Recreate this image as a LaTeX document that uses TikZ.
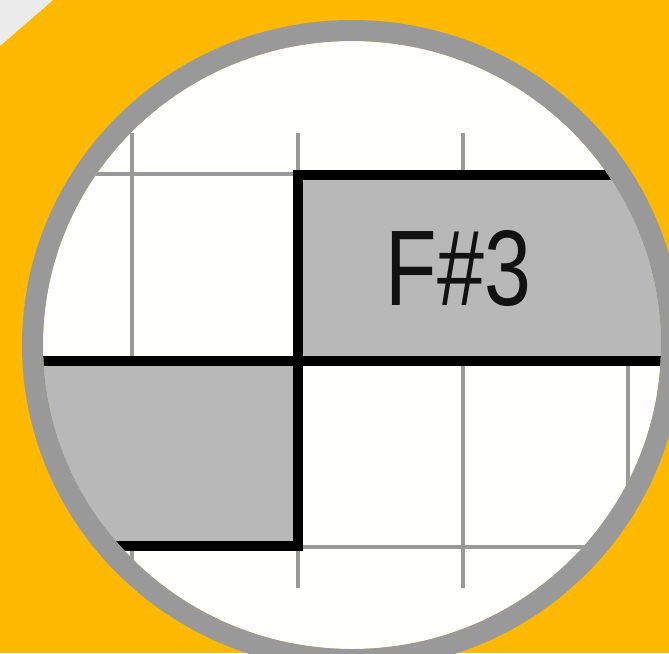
\documentclass[tikz,border=0pt]{standalone}
\usepackage{fontspec}
\setmainfont{Liberation Sans}
\definecolor{bgyellow}{HTML}{FFB900}
\definecolor{cornergray}{HTML}{EBEBEB}
\definecolor{ringgray}{HTML}{999999}
\definecolor{bargray}{HTML}{B8B8B8}
\definecolor{paper}{HTML}{FEFEFC}
\definecolor{gridgray}{HTML}{9A9A9A}
\begin{document}
\begin{tikzpicture}[x=1pt,y=-1pt,
  gridline/.style={draw=gridgray,line width=3.5pt},
  barline/.style={draw=black,line width=10pt},
  barfill/.style={fill=bargray},
  ringline/.style={draw=ringgray,line width=21pt}]
\useasboundingbox (0,0) rectangle (669,653);
\fill[bgyellow] (0,0) rectangle (669,653);
\fill[cornergray] (0,0) -- (53,0) -- (0,46) -- cycle;
\begin{scope}
  \clip (352,345) ellipse [x radius=309pt, y radius=304pt];
  \fill[paper] (0,0) rectangle (700,700);
  % grid
  \draw[gridline] (0,174) -- (298,174);
  \draw[gridline] (298,547) -- (700,547);
  \foreach \x in {132,298,463,628} \draw[gridline] (\x,133) -- (\x,588);
  % note bars
  \fill[barfill] (298,175) rectangle (700,361);
  \fill[barfill] (0,361) rectangle (298,546);
  \draw[barline] (700,175) -- (298,175) -- (298,546) -- (0,546);
  \draw[barline] (0,361) -- (700,361);
  \node (label) [anchor=base, inner sep=0pt, text=black!93] at (458.5,305)
    {\fontsize{107.5}{107.5}\selectfont\scalebox{0.784}[1]{F\#3}};
\end{scope}
\draw[ringline] (352,345) ellipse [x radius=319.5pt, y radius=314.5pt];
\end{tikzpicture}
\end{document}
